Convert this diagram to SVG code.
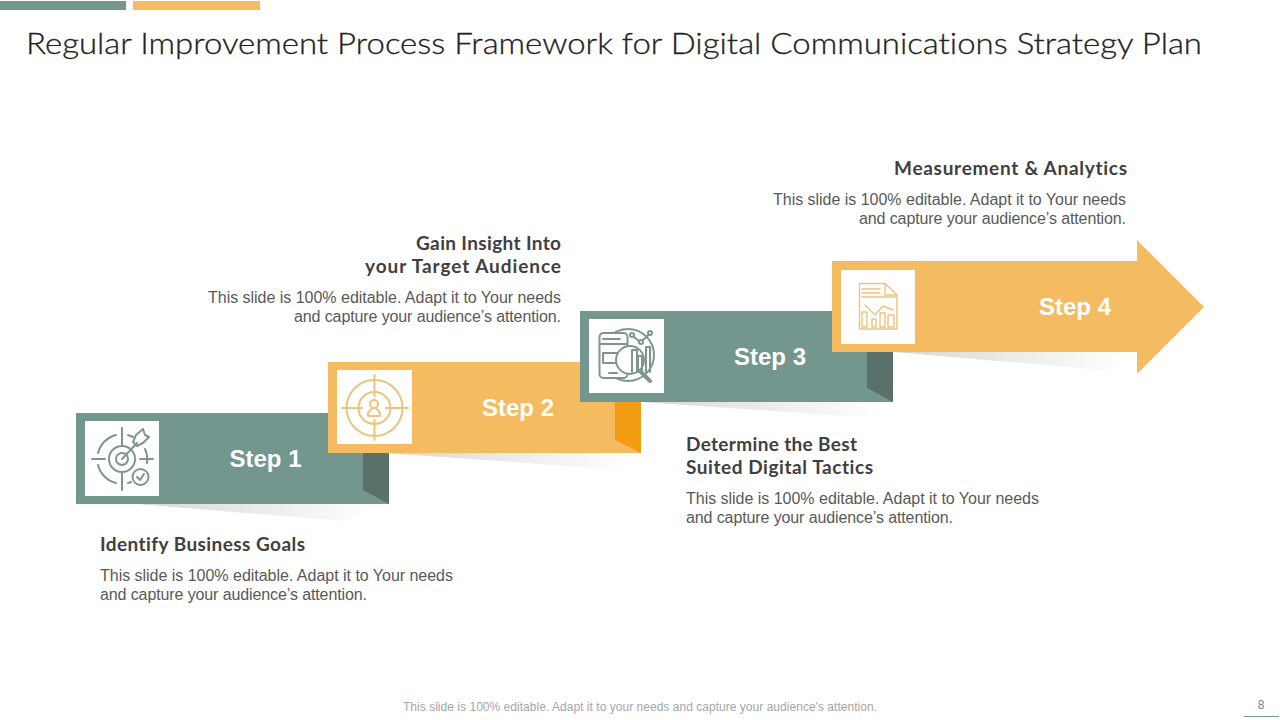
<svg xmlns="http://www.w3.org/2000/svg" width="1280" height="720" viewBox="0 0 1280 720">
<style>
text{font-variant-ligatures:none}
.title{font-family:"Lato","Open Sans",sans-serif;font-size:30px;font-weight:300;fill:#222222;stroke:#222222;stroke-width:0.3}
.head{font-family:"Lato","Open Sans",sans-serif;font-size:19px;font-weight:700;fill:#404040}
.body{font-family:"Liberation Sans",Arial,sans-serif;font-size:16px;fill:#595959}
.step{font-family:"Liberation Sans",Arial,sans-serif;font-size:24px;font-weight:700;fill:#ffffff;text-anchor:middle}
.foot{font-family:"Liberation Sans",Arial,sans-serif;font-size:12px;fill:#a6a6a6}
.num{font-family:"Liberation Sans",Arial,sans-serif;font-size:12px;fill:#7f7f7f;text-anchor:middle}
.teal{fill:#73968E}.yellow{fill:#F4BB60}.box{fill:#ffffff}
.ti{fill:none;stroke:#7F9690;stroke-width:2;stroke-linecap:round;stroke-linejoin:round}
.yi{fill:none;stroke:#EBC47F;stroke-width:2;stroke-linecap:round;stroke-linejoin:round}
.yt{stroke-width:1.4}
</style>
<defs>
<linearGradient id="sh"><stop offset="0" stop-color="#d6d6d6"/><stop offset="0.95" stop-color="#ffffff"/></linearGradient>
</defs>
<rect x="0" y="1" width="126" height="9" class="teal"/>
<rect x="133" y="1" width="127" height="9" class="yellow"/>
<text class="title" x="26" y="54" textLength="1176" lengthAdjust="spacingAndGlyphs">Regular Improvement Process Framework for Digital Communications Strategy Plan</text>

<g id="step1">
<path d="M137 504L389 504L345 521Z" fill="url(#sh)"/>
<rect x="76" y="413" width="313" height="91" class="teal"/>
<path d="M363 453H389V504L363 490Z" fill="#5A716B"/>
<rect x="85" y="421" width="74" height="75" class="box"/>
<g class="ti">
<path d="M116 435A25 25 0 0 0 98 453M116 483A25 25 0 0 1 98 465M128 435L133 437M147 463A25 25 0 0 0 145 449M128 483L131 482"/>
<circle cx="122" cy="459" r="13"/><circle cx="122" cy="459" r="6"/>
<path d="M122 428V445M122 473V490M92 459H105M140 459H153M122 459L137 443M133 442L136 435L143 429L145 435L149 437L143 443L137 446Z"/>
<circle cx="140.500" cy="477" r="8"/><path d="M137 477L140 480L144 474"/>
</g>
<text class="step" x="265.500" y="467">Step 1</text>
</g>

<g id="step2">
<path d="M385 453L641 453L640 471Z" fill="url(#sh)"/>
<rect x="328" y="362" width="313" height="91" class="yellow"/>
<path d="M615 402H641V453L615 440Z" fill="#F39C12"/>
<rect x="337" y="370" width="75" height="74" class="box"/>
<g class="yi">
<circle cx="374.500" cy="408" r="28"/><circle cx="374.500" cy="408" r="16"/>
<path d="M374.500 375V396M374.500 420V440M342 408H362M386 408H408"/>
<circle cx="374" cy="404" r="4"/><path d="M368 416C367 411 371 411 372 408H376C378 411 381 411 380 416Z"/>
</g>
<text class="step" x="518" y="416">Step 2</text>
</g>

<g id="step3">
<path d="M640 402L893 402L892 419Z" fill="url(#sh)"/>
<rect x="580" y="311" width="313" height="91" class="teal"/>
<path d="M867 352H893V402L867 388Z" fill="#5A716B"/>
<rect x="589" y="319" width="75" height="74" class="box"/>
<g class="ti">
<circle cx="628" cy="355" r="26"/>
<rect x="599.500" y="333" width="28" height="45" rx="4" fill="#ffffff"/>
<path d="M600 344H627M603 339H620M603 353H618V363H603ZM609 373H617"/>
<circle cx="630" cy="360" r="14" fill="#ffffff"/>
<path d="M640 371L650 381" stroke-width="4"/>
<path d="M632 372V350H637V372M638 372V356H642V372M646 372V347H650V372"/>
<circle cx="632" cy="335" r="2"/><circle cx="641" cy="342" r="2"/><circle cx="650" cy="333" r="2"/><path d="M634 337L639 341M643 340L648.500 335"/>
</g>
<text class="step" x="770" y="365">Step 3</text>
</g>

<g id="step4">
<path d="M895 352L1136 352V373Z" fill="url(#sh)"/>
<path d="M832 261H1137V240L1204 307L1137 374V352H832Z" class="yellow"/>
<rect x="841" y="270" width="74" height="74" class="box"/>
<g class="yi yt">
<path d="M859.500 283.500H885L897 295V329H859.500ZM885 283.500V295H897M862 289H880M862 293H880M862 297H895"/>
<path d="M865 305L875 315L883 306L893 310"/>
<path d="M862 312H867V327H862ZM872 319H876V327H872ZM880 313H885V327H880ZM888 315H894V327H888Z"/>
</g>
<text class="step" x="1075" y="315">Step 4</text>
</g>

<g id="label1">
<text class="head" x="100" y="551" textLength="205">Identify Business Goals</text>
<text class="body" x="100" y="581" textLength="353">This slide is 100% editable. Adapt it to Your needs</text>
<text class="body" x="100" y="600" textLength="267">and capture your audience’s attention.</text>
</g>
<g id="label2">
<text class="head" x="416" y="250" textLength="145">Gain Insight Into</text>
<text class="head" x="365" y="273" textLength="196">your Target Audience</text>
<text class="body" x="208" y="303" textLength="353">This slide is 100% editable. Adapt it to Your needs</text>
<text class="body" x="294" y="322" textLength="267">and capture your audience’s attention.</text>
</g>
<g id="label3">
<text class="head" x="686" y="451" textLength="171">Determine the Best</text>
<text class="head" x="686" y="474" textLength="187">Suited Digital Tactics</text>
<text class="body" x="686" y="504" textLength="353">This slide is 100% editable. Adapt it to Your needs</text>
<text class="body" x="686" y="523" textLength="267">and capture your audience’s attention.</text>
</g>
<g id="label4">
<text class="head" x="894" y="175" textLength="233">Measurement &amp; Analytics</text>
<text class="body" x="773" y="205" textLength="353">This slide is 100% editable. Adapt it to Your needs</text>
<text class="body" x="859" y="224" textLength="267">and capture your audience’s attention.</text>
</g>

<text class="foot" x="403" y="711" textLength="474">This slide is 100% editable. Adapt it to your needs and capture your audience's attention.</text>
<text class="num" x="1261" y="709">8</text>
<path d="M1244 716.500H1279" stroke="#73968E" stroke-width="1"/>
<g id="connectors"/>
</svg>
